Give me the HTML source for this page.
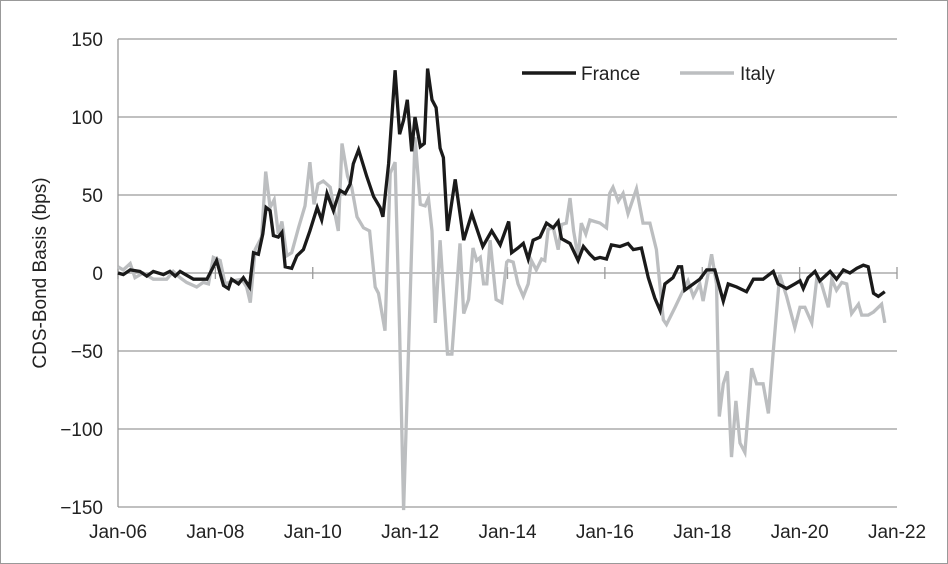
<!DOCTYPE html>
<html><head><meta charset="utf-8"><style>
html,body{margin:0;padding:0;background:#fff}
svg{display:block;font-family:"Liberation Sans",Arial,sans-serif}
</style></head><body>
<svg id="chart" width="948" height="564" viewBox="0 0 948 564">
<rect x="0.5" y="0.5" width="947" height="563" fill="#fff" stroke="#999"/>
<g id="grid"></g>
<g id="yticks"></g>
<g id="xticks"></g>
<text x="46" y="273" transform="rotate(-90 46 273)" text-anchor="middle" font-size="19" fill="#222">CDS-Bond Basis (bps)</text>
<g id="series"></g>
<g>
<g>
<line x1="522" y1="73" x2="576" y2="73" stroke="#1a1a1a" stroke-width="3.5"/>
<text x="581" y="80" font-size="19" fill="#222">France</text></g>
<g>
<line x1="680" y1="73" x2="734" y2="73" stroke="#bcbec0" stroke-width="3.5"/>
<text x="740" y="80" font-size="19" fill="#222">Italy</text></g>
</g>
</svg>
<script>
const yTicks=[150,100,50,0,-50,-100,-150];
const yTickLabels=["150","100","50","0","\u221250","\u2212100","\u2212150"];
const xTickMonths=[0,24,48,72,96,120,144,168,192];
const xTickLabels=["Jan-06","Jan-08","Jan-10","Jan-12","Jan-14","Jan-16","Jan-18","Jan-20","Jan-22"];
const franceMonths=[0,1.3,3,5.4,7.1,8.7,11.2,12.8,14.1,15.3,18.6,20.2,21.9,24.3,26,27.2,28,29.7,30.9,32.4,33.4,34.6,35.7,36.5,37.5,38.3,39.5,40.4,41.2,42.8,44.1,45.7,47.3,49.1,50.2,51.5,53.1,54.7,56,57.2,58,59.3,61.3,63,64.6,65.3,66.7,68.3,69.4,70.4,71.3,72.4,73.2,74.5,75.5,76.3,77.4,78.4,79.4,80.2,81.2,83.1,85.2,87.2,89.9,92.1,94.2,96.3,97,98.6,99.9,101.1,102.3,104,105.6,107.3,108.5,109.3,111.4,113.4,114.7,116.3,117.5,118.8,120.4,121.6,123.7,125.7,127,129,130.7,132.3,133.6,134.8,136.8,138.1,138.9,139.7,141.8,143.4,145.1,147.1,149.2,150.4,152.5,154.9,156.6,159,161.5,162.7,164.8,166.8,168.1,168.9,170.1,171.8,173,175.5,177.1,178.8,180.4,182.1,183.7,184.9,186.2,187.4,189];
const franceValues=[0,-1,2,1,-2,1,-1,1,-2,1,-4,-4,-4,8,-8,-10,-4,-7,-3,-9,13,12,25,42,40,24,23,26,4,3,11,15,27,42,34,51,40,53,51,57,70,79,62,49,42,36,70,130,89,98,111,78,100,81,83,131,111,106,80,74,27,60,21,38,17,27,18,33,13,16,19,9,21,23,32,29,33,22,19,8,17,12,9,10,9,18,17,19,15,16,-3,-16,-24,-7,-3,4,4,-11,-7,-4,2,2,-18,-7,-9,-12,-4,-4,1,-7,-10,-7,-5,-10,-3,1,-5,1,-4,2,0,3,5,4,-13,-15,-12];
const italyMonths=[0,1.3,3,4.2,6.2,8.7,12,13.6,15.3,16.9,19.4,21,22.3,23.5,25.2,26.4,28.4,30.5,31.7,32.6,33.8,35.4,36.4,37.5,38.5,39.5,40.4,41.6,42.8,44.5,46.1,47.3,48.3,49.3,50.6,52.3,53.3,54.3,55.2,56.6,57.6,58.9,60.5,62,63.4,64.2,65.8,67.1,68.3,69.4,70.4,71.6,73.2,74.5,75.7,76.5,77.4,78.2,79.4,81.2,82.3,84.3,85.2,86.4,87.5,88.4,89.3,90.1,90.9,91.7,93.2,94.6,95.8,96.2,97.4,98.6,99.9,101.1,101.9,103.1,104.4,105.2,106,107.3,108.5,109.3,110.5,111.4,112.3,113.4,114.2,115.3,116.3,117.5,118.8,120.4,121.2,122,123.3,124.5,125.7,127.8,129.4,131.1,132.7,134.4,135.2,137.3,139.3,140.5,141.8,143.4,144.2,146.3,147.5,148.2,149.2,150.2,151.2,152.3,153.3,154.5,156.2,157.4,159,160.3,161.5,163.1,164.8,166.8,168.1,169.3,171,172.2,173.4,175.1,175.9,177.1,178.4,179.6,180.8,182.5,183.3,184.9,186.2,188.2,189];
const italyValues=[4,2,6,-3,0,-4,-4,1,-3,-6,-9,-6,-7,10,8,-7,-5,-4,-9,-19,15,23,65,42,47,25,33,11,13,29,43,71,44,57,59,55,40,27,83,62,55,36,29,27,-9,-13,-37,64,71,-37,-152,-50,87,44,43,48,27,-32,21,-52,-52,19,-26,-17,16,8,10,-7,-7,21,-17,-19,7,8,7,-7,-15,-7,8,2,9,8,28,29,15,31,32,48,27,10,32,25,34,33,32,29,51,55,46,51,38,54,32,32,15,-30,-33,-22,-11,-5,-15,-7,-18,12,-7,-92,-71,-63,-118,-82,-109,-115,-61,-71,-71,-90,-50,-1,-15,-35,-22,-22,-32,-4,-7,-22,-4,-11,-6,-7,-26,-20,-27,-27,-25,-20,-32];

const X0=118,X1=897,Y0=273,PX_PER_UNIT=78/50;
const NS="http://www.w3.org/2000/svg";
function xs(m){return X0+(X1-X0)*m/192;}
function ys(v){return Y0-v*PX_PER_UNIT;}
function mk(tag,attrs,parent){const e=document.createElementNS(NS,tag);for(const k in attrs)e.setAttribute(k,attrs[k]);parent.appendChild(e);return e;}
const grid=document.getElementById('grid'),yt=document.getElementById('yticks'),xt=document.getElementById('xticks'),ser=document.getElementById('series');
yTicks.forEach((v,i)=>{
  const l=mk('line',{x1:X0,x2:X1,y1:ys(v),y2:ys(v),stroke:'#9a9a9a','stroke-width':1.3},grid);
  
  
  const t=mk('text',{x:103,y:ys(v)+7,'text-anchor':'end','font-size':19,fill:'#222'},yt);
  t.textContent=yTickLabels[i];
  
  
});
const ax=mk('line',{x1:X0,x2:X0,y1:ys(150),y2:ys(-150),stroke:'#9a9a9a','stroke-width':1.3},grid);


xTickMonths.forEach((m,i)=>{
  const tk=mk('line',{x1:xs(m),x2:xs(m),y1:Y0-6,y2:Y0+6,stroke:'#9a9a9a','stroke-width':1.3},xt);
  
  
  const t=mk('text',{x:xs(m),y:538,'text-anchor':'middle','font-size':19,fill:'#222'},xt);
  t.textContent=xTickLabels[i];
  
  
});
function line(ms,vs,color,name){
  const d=ms.map((m,i)=>(i?'L':'M')+xs(m).toFixed(1)+' '+ys(vs[i]).toFixed(1)).join(' ');
  const p=mk('path',{d:d,fill:'none',stroke:color,'stroke-width':3.3,'stroke-linejoin':'miter'},ser);
  
  
}
line(italyMonths,italyValues,'#bcbec0','italy-line');
line(franceMonths,franceValues,'#1a1a1a','france-line');
</script>
</body></html>
